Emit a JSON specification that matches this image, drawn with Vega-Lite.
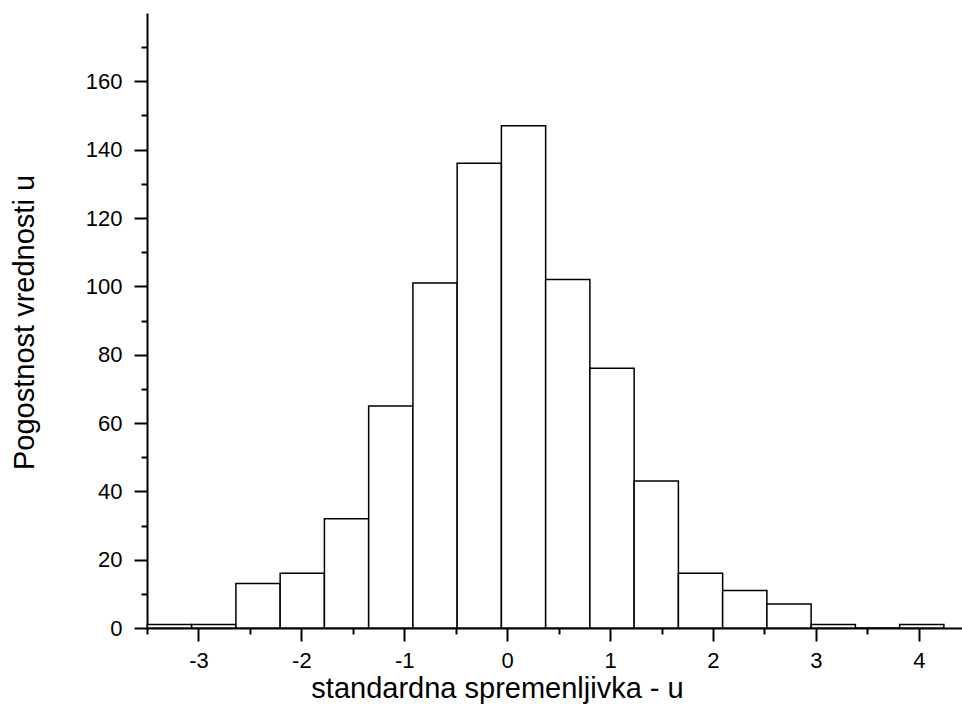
{
  "$schema": "https://vega.github.io/schema/vega-lite/v6.json",
  "autosize": {"type": "none"},
  "padding": {"left": 147, "top": 13, "right": 0, "bottom": 82},
  "width": 815,
  "height": 615,
  "background": "white",
  "config": {
    "view": {"stroke": null},
    "font": "Liberation Sans",
    "axis": {
      "grid": false,
      "domainColor": "black",
      "domainWidth": 2,
      "tickColor": "black",
      "tickWidth": 2,
      "labelColor": "black",
      "titleColor": "black",
      "labelFont": "Liberation Sans",
      "titleFont": "Liberation Sans",
      "labelFontSize": 22,
      "titleFontSize": 29,
      "titleFontWeight": "normal",
      "zindex": 1
    }
  },
  "data": {
    "values": [
      {"lo": -3.496, "hi": -3.066, "count": 1},
      {"lo": -3.066, "hi": -2.636, "count": 1},
      {"lo": -2.636, "hi": -2.206, "count": 13},
      {"lo": -2.206, "hi": -1.776, "count": 16},
      {"lo": -1.776, "hi": -1.346, "count": 32},
      {"lo": -1.346, "hi": -0.916, "count": 65},
      {"lo": -0.916, "hi": -0.486, "count": 101},
      {"lo": -0.486, "hi": -0.056, "count": 136},
      {"lo": -0.056, "hi": 0.374, "count": 147},
      {"lo": 0.374, "hi": 0.804, "count": 102},
      {"lo": 0.804, "hi": 1.234, "count": 76},
      {"lo": 1.234, "hi": 1.664, "count": 43},
      {"lo": 1.664, "hi": 2.094, "count": 16},
      {"lo": 2.094, "hi": 2.524, "count": 11},
      {"lo": 2.524, "hi": 2.954, "count": 7},
      {"lo": 2.954, "hi": 3.384, "count": 1},
      {"lo": 3.384, "hi": 3.814, "count": 0},
      {"lo": 3.814, "hi": 4.244, "count": 1}
    ]
  },
  "mark": {"type": "rect", "fill": "white", "stroke": "black", "strokeWidth": 1.5},
  "encoding": {
    "x": {
      "field": "lo",
      "type": "quantitative",
      "scale": {"domain": [-3.5, 4.42], "nice": false, "zero": false},
      "axis": {
        "title": "standardna spremenljivka - u",
        "values": [-3.5, -3, -2.5, -2, -1.5, -1, -0.5, 0, 0.5, 1, 1.5, 2, 2.5, 3, 3.5, 4],
        "labelExpr": "datum.value % 1 === 0 ? (datum.value < 0 ? '-' + abs(datum.value) : '' + datum.value) : ''",
        "tickSize": {"condition": {"test": "datum.value % 1 === 0", "value": 13}, "value": 6},
        "labelPadding": 9,
        "labelFlush": false,
        "labelOverlap": false,
        "titleX": 350,
        "titleY": 69,
        "titleAlign": "center",
        "titleBaseline": "alphabetic"
      }
    },
    "x2": {"field": "hi"},
    "y": {
      "field": "count",
      "type": "quantitative",
      "scale": {"domain": [0, 180], "nice": false},
      "axis": {
        "title": "Pogostnost vrednosti u",
        "values": [0, 10, 20, 30, 40, 50, 60, 70, 80, 90, 100, 110, 120, 130, 140, 150, 160, 170],
        "labelExpr": "datum.value % 20 === 0 ? '' + datum.value : ''",
        "tickSize": {"condition": {"test": "datum.value % 20 === 0", "value": 13}, "value": 6},
        "labelPadding": 12,
        "labelFlush": false,
        "labelOverlap": false,
        "titleX": -114,
        "titleY": 309,
        "titleAngle": -90,
        "titleAlign": "center",
        "titleBaseline": "alphabetic"
      }
    },
    "y2": {"datum": 0}
  }
}
